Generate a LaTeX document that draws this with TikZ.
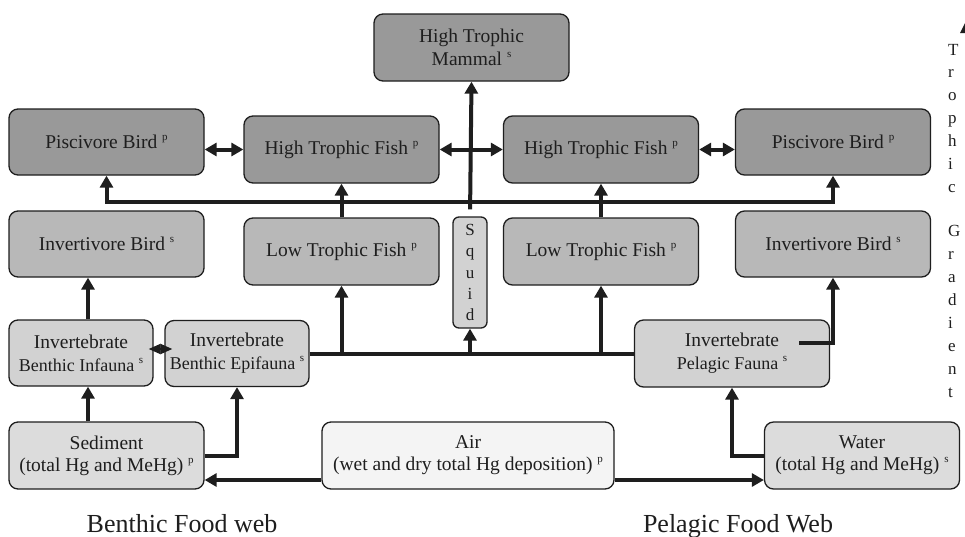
\documentclass[tikz,border=0pt]{standalone}
\usepackage{fontspec}
\setmainfont{Liberation Serif}
\usetikzlibrary{arrows.meta}
\definecolor{dkg}{RGB}{153,153,153}
\definecolor{mdg}{RGB}{184,184,184}
\definecolor{ltg}{RGB}{210,210,210}
\definecolor{slg}{RGB}{220,220,220}
\definecolor{airc}{RGB}{244,244,244}
\definecolor{ink}{RGB}{30,30,30}
\newcommand\supx[1]{\hspace{0.25em}\raisebox{8pt}{\fontsize{11}{11}\selectfont #1}}
\begin{document}
\begin{tikzpicture}[x=1pt,y=-1pt,
  box/.style={draw=ink, line width=1.3pt, rounded corners=9pt, align=center, inner sep=0pt, text=ink, font=\fontsize{19.5}{23}\selectfont},
  wide/.style={minimum width=195pt, minimum height=67pt},
  mid/.style={minimum width=144pt, minimum height=66pt},
  conn/.style={draw=ink, line width=4pt},
  arr/.style={conn, -{Triangle[width=13pt,length=12pt]}},
  both/.style={conn, {Triangle[width=13pt,length=12pt]}-{Triangle[width=13pt,length=12pt]}},
  smallboth/.style={conn, line width=2pt, {Triangle[width=10pt,length=12pt]}-{Triangle[width=10pt,length=12pt]}},
  lab/.style={text=ink, font=\fontsize{26}{30}\selectfont, inner sep=0pt, anchor=base}
]
\fill[white] (0,0) rectangle (965,536);
\useasboundingbox (0,0) rectangle (965,536);

% top level
\node[box, wide, fill=dkg] (mam) at (471.5,47.5) {High Trophic\\Mammal\supx{s}};
\node[box, wide, minimum height=66pt, fill=dkg] (pbL) at (106.5,142) {Piscivore Bird\supx{p}};
\node[box, wide, fill=dkg] (htfL) at (341.5,149.5) {High Trophic Fish\supx{p}};
\node[box, wide, fill=dkg] (htfR) at (601,149.5) {High Trophic Fish\supx{p}};
\node[box, wide, minimum height=66pt, fill=dkg] (pbR) at (833,142) {Piscivore Bird\supx{p}};

% second level
\node[box, wide, minimum height=66pt, fill=mdg] (ibL) at (106.5,244) {Invertivore Bird\supx{s}};
\node[box, wide, fill=mdg] (ltfL) at (341.5,251.5) {Low Trophic Fish\supx{p}};
\node[box, minimum width=34pt, minimum height=111pt, rounded corners=6pt, fill=ltg, font=\fontsize{17}{21.25}\selectfont] (sq) at (470,272.5) {S\\q\\u\\i\\d};
\node[box, wide, fill=mdg] (ltfR) at (601,251.5) {Low Trophic Fish\supx{p}};
\node[box, wide, minimum height=66pt, fill=mdg] (ibR) at (833,244) {Invertivore Bird\supx{s}};

% invertebrates
\node[box, mid, fill=ltg] (inf) at (81,353) {Invertebrate\\{\fontsize{18}{23}\selectfont Benthic Infauna\supx{s}}};
\node[box, mid, fill=ltg] (epi) at (237,353.5) {Invertebrate\\{\fontsize{18}{23}\selectfont Benthic Epifauna\supx{s}}};
\node[box, wide, fill=ltg] (pel) at (732,353.5) {Invertebrate\\{\fontsize{18}{23}\selectfont Pelagic Fauna\supx{s}}};

% sources
\node[box, wide, fill=slg, font=\fontsize{19.5}{22}\selectfont] (sed) at (106.5,455.5) {Sediment\\(total Hg and MeHg)\supx{p}};
\node[box, minimum width=292pt, minimum height=67pt, fill=airc, font=\fontsize{19.5}{22}\selectfont] (air) at (468,455.5) {Air\\(wet and dry total Hg deposition)\supx{p}};
\node[box, wide, fill=slg, font=\fontsize{19.5}{22}\selectfont] (wat) at (862,455.5) {Water\\(total Hg and MeHg)\supx{s}};

% labels
\node[lab] (bfw) at (182,532) {Benthic Food web};
\node[lab] (pfw) at (738,532) {Pelagic Food Web};
\node[text=ink, font=\fontsize{17}{22.9}\selectfont, align=left, inner sep=0pt, anchor=north west] (tg) at (948,43.7)
  {T\\r\\o\\p\\h\\i\\c\\[21.4pt]G\\r\\a\\d\\i\\e\\n\\t};
\fill[ink] (960,33) -- (966.5,20) -- (973,33) -- cycle;

% upper connectors
\coordinate (bus) at (471,202);
\draw[both] (pbL.south) |- (bus) -| (pbR.south);
\draw[arr] (ltfL.north) -- (htfL.south);
\draw[arr] (ltfR.north) -- (htfR.south);
\draw[arr, shorten <=7pt] (sq.north) -- (mam.south);
\draw[both] (htfL.east) -- (htfR.west);
\draw[both] (pbL.east |- htfL.west) -- (htfL.west);
\draw[both] (htfR.east) -- (pbR.west |- htfR.east);

% lower connectors
\draw[conn] (epi.east) -- (pel.west);
\draw[arr] (ltfL.south |- epi.east) -- (ltfL.south);
\draw[arr] (sq.south |- epi.east) -- (sq.south);
\draw[arr] (ltfR.south |- epi.east) -- (ltfR.south);
\coordinate (pelout) at (799,343);
\draw[arr] (pelout) -| (ibR.south);
\coordinate (colA) at (88,400);
\draw[arr] (sed.north -| colA) -- (inf.south -| colA);
\draw[arr] (inf.north -| colA) -- (ibL.south -| colA);
\coordinate (ie) at (160,349);
\draw[smallboth, shorten <=-5pt, shorten >=-8pt] (inf.east |- ie) -- (epi.west |- ie);
\draw[arr] (sed.east) -| (epi.south);
\coordinate (airlvl) at (468,480);
\draw[arr] (air.west |- airlvl) -- (sed.east |- airlvl);
\draw[arr] (air.east |- airlvl) -- (wat.west |- airlvl);
\draw[arr] (wat.west) -| (pel.south);
\end{tikzpicture}
\end{document}
